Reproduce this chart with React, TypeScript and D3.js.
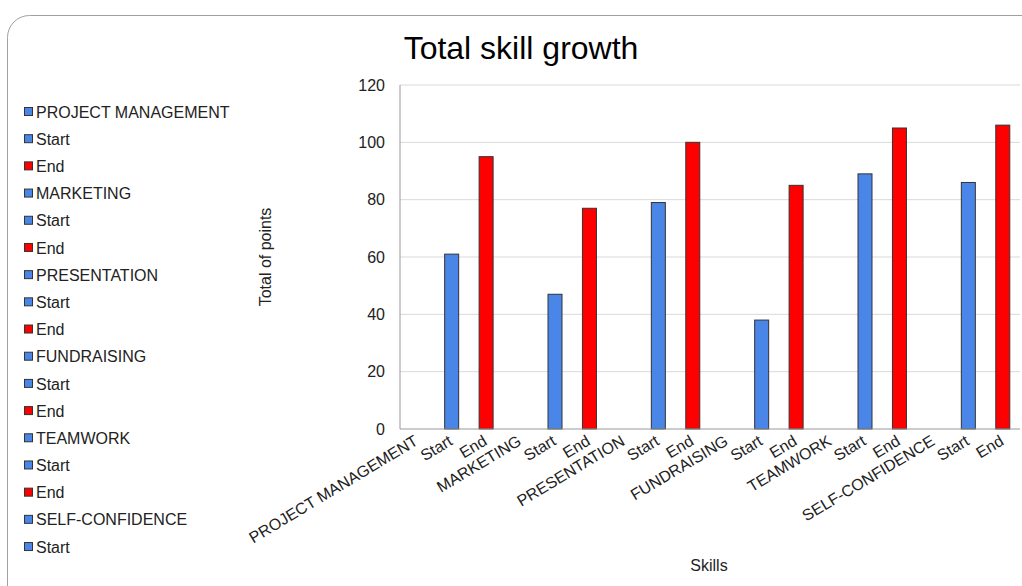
import React from "react";
import * as d3 from "d3";

const categories = [
  "PROJECT MANAGEMENT", "Start", "End",
  "MARKETING", "Start", "End",
  "PRESENTATION", "Start", "End",
  "FUNDRAISING", "Start", "End",
  "TEAMWORK", "Start", "End",
  "SELF-CONFIDENCE", "Start", "End",
];
const values: (number | null)[] = [
  null, 61, 95,
  null, 47, 77,
  null, 79, 100,
  null, 38, 85,
  null, 89, 105,
  null, 86, 106,
];
const legendItems = categories.slice(0, 17);
const yTicks = [0, 20, 40, 60, 80, 100, 120];
const title = "Total skill growth";
const yTitle = "Total of points";
const xTitle = "Skills";

const BLUE = "#4a86e8";
const RED = "#ff0000";
const colorFor = (c: string) => (c === "End" ? RED : BLUE);
const FONT = "'Liberation Sans', Arial, sans-serif";

export default function App() {
  const W = 1022, H = 586;
  const left = 400, right = 1020, top = 85, bottom = 429;
  const x = d3.scaleBand<number>().domain(d3.range(categories.length)).range([left, right]).paddingInner(0).paddingOuter(0);
  const y = d3.scaleLinear().domain([0, 120]).range([bottom, top]);
  const barW = 14;
  return (
    <div style={{ position: "absolute", left: 0, top: 0 }}>
      <svg width={W} height={H} style={{ display: "block", fontFamily: FONT }}>
        <rect x={0} y={0} width={W} height={H} fill="#fff" />
        <rect x={7.5} y={15.5} width={1060} height={620} rx={22} fill="none" stroke="#a0a0a0" strokeWidth={1} />
        <text x={521} y={59} textAnchor="middle" fontSize={32} fill="#000">{title}</text>
        {yTicks.map((t) => (
          <g key={t}>
            {t > 0 && <line x1={left} x2={right} y1={y(t)} y2={y(t)} stroke="#d9d9d9" strokeWidth={1} />}
            <text x={385} y={y(t)} dy="0.35em" textAnchor="end" fontSize={16} fill="#222">{t}</text>
          </g>
        ))}
        {values.map((v, i) =>
          v == null ? null : (
            <rect key={i}
              x={(x(i) as number) + x.bandwidth() / 2 - barW / 2}
              y={y(v)} width={barW} height={y(0) - y(v)}
              fill={colorFor(categories[i])} stroke="#333" strokeWidth={1} />
          )
        )}
        <line x1={left} x2={left} y1={top} y2={bottom} stroke="#999" strokeWidth={1} />
        <line x1={left} x2={right} y1={bottom} y2={bottom} stroke="#999" strokeWidth={1} />
        {categories.map((c, i) => {
          const cx = (x(i) as number) + x.bandwidth() / 2 + 2;
          const cy = bottom + 15;
          return (
            <text key={i} x={cx} y={cy} textAnchor="end" fontSize={16} fill="#222"
              transform={`rotate(-31 ${cx} ${cy})`}>{c}</text>
          );
        })}
        <text x={709} y={571} textAnchor="middle" fontSize={16} fill="#222">{xTitle}</text>
        <text transform={`translate(271 257) rotate(-90)`} textAnchor="middle" fontSize={16} fill="#222">{yTitle}</text>
        {legendItems.map((c, i) => {
          const ly = 112 + i * 27.19;
          return (
            <g key={i}>
              <rect x={24.5} y={ly - 4.5} width={8} height={8} fill={colorFor(c)} stroke="#333" strokeWidth={1} />
              <text x={36} y={ly} dy="0.35em" fontSize={16} fill="#222">{c}</text>
            </g>
          );
        })}
      </svg>
    </div>
  );
}
